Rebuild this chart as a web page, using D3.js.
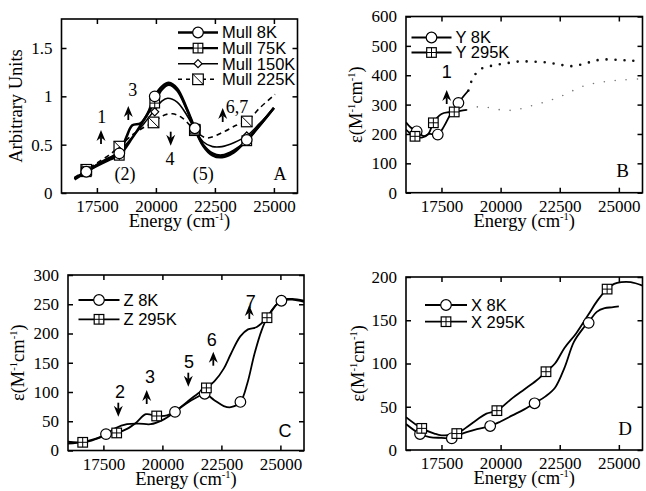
<!DOCTYPE html>
<html><head><meta charset="utf-8">
<script src="https://cdn.jsdelivr.net/npm/d3@7"></script>
<style>
body{margin:0;background:#fff}
svg{display:block}
</style></head>
<body><svg id="c" width="646" height="491"></svg>
<script>
// ---------- DATA ----------
const energyTicks = [17500, 20000, 22500, 25000];
const ticksA = [0, 0.5, 1, 1.5];
const ticksB = [0, 100, 200, 300, 400, 500, 600];
const ticksC = [0, 50, 100, 150, 200, 250, 300];
const ticksD = [0, 50, 100, 150, 200];

// Panel A (Mull, arbitrary units)
const mull8K = [[16550,0.14],[17000,0.21],[17500,0.29],[18000,0.36],[18450,0.41],[18750,0.58],[19000,0.70],[19350,0.72],[19650,0.82],[19950,1.00],[20250,1.10],[20550,1.14],[20900,1.08],[21300,0.88],[21650,0.67],[22000,0.49],[22400,0.39],[22800,0.37],[23300,0.42],[23850,0.55],[24400,0.70],[25000,0.88]];
const mull75K = [[16550,0.15],[17050,0.22],[17500,0.28],[18000,0.34],[18450,0.39],[19000,0.57],[19500,0.76],[19950,0.94],[20250,1.07],[20550,1.12],[20900,1.06],[21300,0.87],[21650,0.66],[22000,0.50],[22400,0.41],[22800,0.39],[23300,0.44],[23850,0.54],[24400,0.70],[25000,0.88]];
const mull150K = [[16550,0.15],[17050,0.23],[17500,0.29],[18000,0.36],[18450,0.43],[19000,0.58],[19500,0.72],[19950,0.86],[20250,0.95],[20500,0.98],[20900,0.94],[21300,0.81],[21650,0.66],[22000,0.53],[22400,0.48],[22800,0.48],[23300,0.52],[23850,0.59],[24400,0.72],[25000,0.88]];
const mull225K = [[16550,0.16],[17050,0.24],[17500,0.31],[18000,0.39],[18450,0.48],[19000,0.60],[19500,0.68],[19900,0.73],[20300,0.80],[20700,0.82],[21100,0.78],[21650,0.65],[22150,0.57],[22850,0.63],[23400,0.70],[23850,0.74],[24400,0.88],[25050,1.02]];
const mull8KMarks = [[17050,0.22],[18450,0.41],[19950,1.00],[21650,0.67],[23850,0.55]];
const mull75KMarks = [[17050,0.22],[18450,0.39],[19950,0.93],[21650,0.66],[23850,0.54]];
const mull150KMarks = [[17050,0.23],[18450,0.43],[19950,0.84],[21650,0.66],[23850,0.59]];
const mull225KMarks = [[17050,0.24],[18450,0.48],[19900,0.73],[21650,0.65],[23850,0.74]];

// Panel B (Y polarisation)
const y8K = [[16000,240],[16200,222],[16450,209],[16750,193],[17000,200],[17343,198],[17600,225],[17900,270],[18217,306],[18450,330],[18640,348]];
const y8KDotted = [[18640,348],[18800,385],[19100,418],[19600,432],[20200,440],[20800,447],[21400,446],[22000,443],[22500,436],[23000,431],[23500,438],[24000,450],[24500,454],[25000,452],[25500,450],[26000,448]];
const y295K = [[16000,215],[16200,200],[16381,192],[16700,188],[16950,200],[17157,238],[17500,268],[17800,274],[18040,275],[18300,279],[18570,282]];
const y295KDotted = [[18570,282],[19000,292],[19500,290],[20200,280],[20800,285],[21400,298],[22000,312],[22600,330],[23400,360],[24000,373],[24600,380],[25200,384],[26000,388]];
const y8KMarks = [[16453,209],[17343,198],[18217,306]];
const y295KMarks = [[16381,192],[17157,238],[18040,275]];

// Panel C (Z polarisation)
const z8K = [[16000,15],[16500,14],[17000,18],[17300,22],[17610,28],[18000,38],[18500,45],[19000,46],[19500,45],[20000,52],[20533,66],[21000,80],[21500,92],[21792,97],[22200,86],[22600,76],[22900,74],[23305,83],[23600,115],[23900,165],[24200,205],[24450,228],[24800,248],[25042,256],[25500,258],[26000,254]];
const z295K = [[16000,12],[16623,14],[17000,17],[17500,24],[18063,30],[18500,37],[18900,48],[19300,62],[19758,59],[20200,60],[20700,72],[21200,88],[21600,100],[21864,107],[22200,118],[22600,140],[22900,165],[23300,195],[23627,207],[24000,211],[24432,227],[24800,248],[25042,258],[25500,259],[26000,256]];
const z8KMarks = [[17610,28],[20533,66],[21792,97],[23305,83],[25042,256]];
const z295KMarks = [[16623,14],[18063,30],[19758,59],[21864,107],[24432,227]];

// Panel D (X polarisation)
const x8K = [[16000,30],[16593,18.5],[17000,15],[17500,14],[17936,13.5],[18300,18],[19000,24],[19560,27.7],[20000,33],[20500,40],[21000,47],[21436,54],[21900,62],[22300,72],[22700,95],[23100,125],[23500,141],[23724,148],[24080,160],[24400,164],[24700,165],[25000,166]];
const x295K = [[16000,38],[16665,25],[17200,19],[17500,17],[18148,19],[18500,25],[19000,35],[19400,42],[19843,45.5],[20500,60],[21000,70],[21500,80],[21919,90.5],[22300,100],[22700,118],[23200,135],[23700,156],[24100,173],[24504,186],[24800,192],[25100,194],[25500,194],[26000,190]];
const x8KMarks = [[16593,18.5],[17936,13.5],[19560,27.7],[21436,54],[23724,147]];
const x295KMarks = [[16665,25],[18148,19],[19843,45.5],[21919,90.5],[24504,186]];

// ---------- DRAWING ----------
const svg = d3.select("#c");
const serif = '"Liberation Serif","Times New Roman",serif';
const sans = '"Liberation Sans",Arial,sans-serif';
const curve = d3.curveCatmullRom.alpha(0.5);

function panel(cfg){
  const g = svg.append("g");
  const x = d3.scaleLinear().domain([16000,26000]).range([cfg.x0,cfg.x1]);
  const y = d3.scaleLinear().domain(cfg.ydom).range([cfg.y0,cfg.y1]);
  const clipId = "clip"+cfg.id;
  svg.append("clipPath").attr("id",clipId).append("rect")
    .attr("x",cfg.x0).attr("y",cfg.y1).attr("width",cfg.x1-cfg.x0).attr("height",cfg.y0-cfg.y1);
  // axes (inward ticks on all four sides)
  const tl = 5;
  const axB = d3.axisBottom(x).tickValues(energyTicks).tickSize(-tl).tickPadding(tl+2).tickFormat(d3.format("d"));
  const axT = d3.axisTop(x).tickValues(energyTicks).tickSize(-tl).tickFormat("");
  const axL = d3.axisLeft(y).tickValues(cfg.yticks).tickSize(-tl).tickPadding(tl+4).tickFormat(cfg.fmt);
  const axR = d3.axisRight(y).tickValues(cfg.yticks).tickSize(-tl).tickFormat("");
  const sty = s => s.call(a=>a.select(".domain").remove())
     .call(a=>a.selectAll(".tick line").attr("stroke","#000").attr("stroke-width",1.5))
     .call(a=>a.selectAll(".tick text").attr("font-size",17).attr("fill","#000").attr("font-family",serif));
  g.append("g").attr("transform",`translate(0,${cfg.y0})`).call(axB).call(sty);
  g.append("g").attr("transform",`translate(0,${cfg.y1})`).call(axT).call(sty);
  g.append("g").attr("transform",`translate(${cfg.x0},0)`).call(axL).call(sty);
  g.append("g").attr("transform",`translate(${cfg.x1},0)`).call(axR).call(sty);
  g.append("rect").attr("x",cfg.x0).attr("y",cfg.y1).attr("width",cfg.x1-cfg.x0).attr("height",cfg.y0-cfg.y1)
    .attr("fill","none").attr("stroke","#000").attr("stroke-width",1.6);
  const line = d3.line().x(d=>x(d[0])).y(d=>y(d[1])).curve(curve);
  const pg = g.append("g").attr("clip-path",`url(#${clipId})`);
  cfg.series.forEach(s=>{
    pg.append("path").attr("d",line(s.data)).attr("fill","none")
      .attr("stroke",s.color||"#000").attr("stroke-width",s.w)
      .attr("stroke-dasharray",s.dash||null).attr("stroke-linecap",s.cap||"butt");
  });
  cfg.series.forEach(s=>{
    if(s.marks) s.marks.forEach(m=>marker(g,s.marker,x(m[0]),y(m[1])));
  });
  // axis titles
  const tx = g.append("text").attr("x",(cfg.x0+cfg.x1)/2).attr("y",cfg.y0+34)
    .attr("text-anchor","middle").attr("font-family",serif).attr("font-size",18.5);
  tx.append("tspan").text("Energy (cm");
  tx.append("tspan").attr("dy",-7).attr("font-size",10.5).text("-1");
  tx.append("tspan").attr("dy",7).text(")");
  const ty = g.append("text").attr("transform",`translate(${cfg.ytx},${(cfg.y0+cfg.y1)/2}) rotate(-90)`)
    .attr("text-anchor","middle").attr("font-family",serif).attr("font-size",18.5);
  if(cfg.ytitle){ ty.text(cfg.ytitle); }
  else {
    ty.append("tspan").text("ε(M");
    ty.append("tspan").attr("dy",-7).attr("font-size",10.5).text("-1");
    ty.append("tspan").attr("dy",7).text("cm");
    ty.append("tspan").attr("dy",-7).attr("font-size",10.5).text("-1");
    ty.append("tspan").attr("dy",7).text(")");
  }
  // legend
  cfg.legend.forEach((l,i)=>{
    const ly = cfg.leg.y + i*cfg.leg.dy;
    g.append("line").attr("x1",cfg.leg.x).attr("x2",cfg.leg.x+cfg.leg.len).attr("y1",ly).attr("y2",ly)
      .attr("stroke","#000").attr("stroke-width",l.w).attr("stroke-dasharray",l.dash||null);
    marker(g,l.marker,cfg.leg.x+cfg.leg.len/2,ly);
    g.append("text").attr("x",cfg.leg.x+cfg.leg.len+4).attr("y",ly).attr("dy","0.36em")
      .attr("font-family",sans).attr("font-size",16.5).text(l.name);
  });
  // band annotations
  (cfg.arrows||[]).forEach(a=>arrow(g,a[0],a[1],a[2]));
  (cfg.labels||[]).forEach(t=>{
    g.append("text").attr("x",t[0]).attr("y",t[1]).attr("dy","0.35em").attr("text-anchor","middle")
      .attr("font-family",t[3]==="s"?sans:serif).attr("font-size",t[4]||18).text(t[2]);
  });
}

function marker(g,type,cx,cy){
  if(type==="circle"){
    g.append("circle").attr("cx",cx).attr("cy",cy).attr("r",5.3).attr("fill","#fff").attr("stroke","#000").attr("stroke-width",1.2);
  } else if(type==="sqplus"){
    const s=4.8;
    g.append("rect").attr("x",cx-s).attr("y",cy-s).attr("width",2*s).attr("height",2*s).attr("fill","#fff").attr("stroke","#000").attr("stroke-width",1.2);
    g.append("path").attr("d",`M${cx-s},${cy}H${cx+s}M${cx},${cy-s}V${cy+s}`).attr("stroke","#000").attr("stroke-width",1);
  } else if(type==="sqslash"){
    const s=5.3;
    g.append("rect").attr("x",cx-s).attr("y",cy-s).attr("width",2*s).attr("height",2*s).attr("fill","#fff").attr("stroke","#000").attr("stroke-width",1.2);
    g.append("path").attr("d",`M${cx-s},${cy-s}L${cx+s},${cy+s}`).attr("stroke","#000").attr("stroke-width",1);
  } else if(type==="diamond"){
    const s=4;
    g.append("path").attr("d",`M${cx},${cy-s}L${cx+s},${cy}L${cx},${cy+s}L${cx-s},${cy}Z`).attr("fill","#fff").attr("stroke","#000").attr("stroke-width",1.2);
  }
}

function arrow(g,cx,tip,dir){
  // dir: 1 = up (tip at top), -1 = down
  const h=11, w=4.5, notch=7.5, shaft=14;
  const p = `M${cx},${tip} L${cx+w},${tip+dir*h} L${cx},${tip+dir*notch} L${cx-w},${tip+dir*h} Z`;
  g.append("line").attr("x1",cx).attr("x2",cx).attr("y1",tip+dir*notch).attr("y2",tip+dir*shaft).attr("stroke","#000").attr("stroke-width",1.8);
  g.append("path").attr("d",p).attr("fill","#000");
}

panel({id:"A",x0:61.5,x1:297.5,y0:193,y1:19,ydom:[0,1.8],yticks:ticksA,fmt:d=>d,ytx:22,ytitle:"Arbitrary Units",
  series:[
    {data:mull225K,w:1.6,dash:"5,4",marks:mull225KMarks,marker:"sqslash"},
    {data:mull150K,w:1.6,marks:mull150KMarks,marker:"diamond"},
    {data:mull75K,w:2.4,marks:mull75KMarks,marker:"sqplus"},
    {data:mull8K,w:2.6,marks:mull8KMarks,marker:"circle"}],
  legend:[{name:"Mull 8K",w:2.4,marker:"circle"},{name:"Mull 75K",w:2.2,marker:"sqplus"},{name:"Mull 150K",w:1.6,marker:"diamond"},{name:"Mull 225K",w:1.4,dash:"4,4",marker:"sqslash"}],
  leg:{x:178,y:32.5,dy:15.6,len:40},
  arrows:[[101,130,1],[128.3,106,1],[170.7,145.7,-1],[222.7,108,1]],
  labels:[[101.7,116.7,"1"],[132.7,90,"3"],[170,158.3,"4"],[237,106.7,"6,7"],[125,174,"(2)"],[203.3,174,"(5)"],[280,173.3,"A"]]
});

panel({id:"B",x0:406,x1:642.5,y0:192.7,y1:16.5,ydom:[0,600],yticks:ticksB,fmt:d=>d,ytx:362,
  series:[
    {data:y8KDotted,w:2.6,dash:"0,9",cap:"round",color:"#111"},
    {data:y295KDotted,w:1.6,dash:"0,11",cap:"round",color:"#777"},
    {data:y8K,w:1.8,marks:y8KMarks,marker:"circle"},
    {data:y295K,w:1.8,marks:y295KMarks,marker:"sqplus"}],
  legend:[{name:"Y 8K",w:1.8,marker:"circle"},{name:"Y 295K",w:1.8,marker:"sqplus"}],
  leg:{x:411.5,y:37.5,dy:15,len:40},
  arrows:[[446.7,90,1]],
  labels:[[446.7,71.7,"1","s"],[622.7,170.7,"B","r",19]]
});

panel({id:"C",x0:68,x1:304,y0:450.5,y1:275,ydom:[0,300],yticks:ticksC,fmt:d=>d,ytx:24,
  series:[
    {data:z8K,w:1.8,marks:z8KMarks,marker:"circle"},
    {data:z295K,w:1.8,marks:z295KMarks,marker:"sqplus"}],
  legend:[{name:"Z 8K",w:1.8,marker:"circle"},{name:"Z 295K",w:1.8,marker:"sqplus"}],
  leg:{x:78.5,y:300,dy:19.3,len:41},
  arrows:[[118.3,416.7,-1],[146.7,390,1],[188.3,386.7,-1],[213.3,351.7,1],[249.3,305,1]],
  labels:[[120,391.7,"2","s"],[150,376.7,"3","s"],[189,361.7,"5","s"],[211.7,340,"6","s"],[250.7,301.7,"7","s"],[285,430.7,"C","s"]]
});

panel({id:"D",x0:406,x1:642.5,y0:450,y1:277,ydom:[0,200],yticks:ticksD,fmt:d=>d,ytx:364,
  series:[
    {data:x8K,w:1.8,marks:x8KMarks,marker:"circle"},
    {data:x295K,w:1.8,marks:x295KMarks,marker:"sqplus"}],
  legend:[{name:"X 8K",w:1.8,marker:"circle"},{name:"X 295K",w:1.8,marker:"sqplus"}],
  leg:{x:425,y:305,dy:16.7,len:42},
  labels:[[625,428.3,"D","r",19]]
});
</script></body></html>
